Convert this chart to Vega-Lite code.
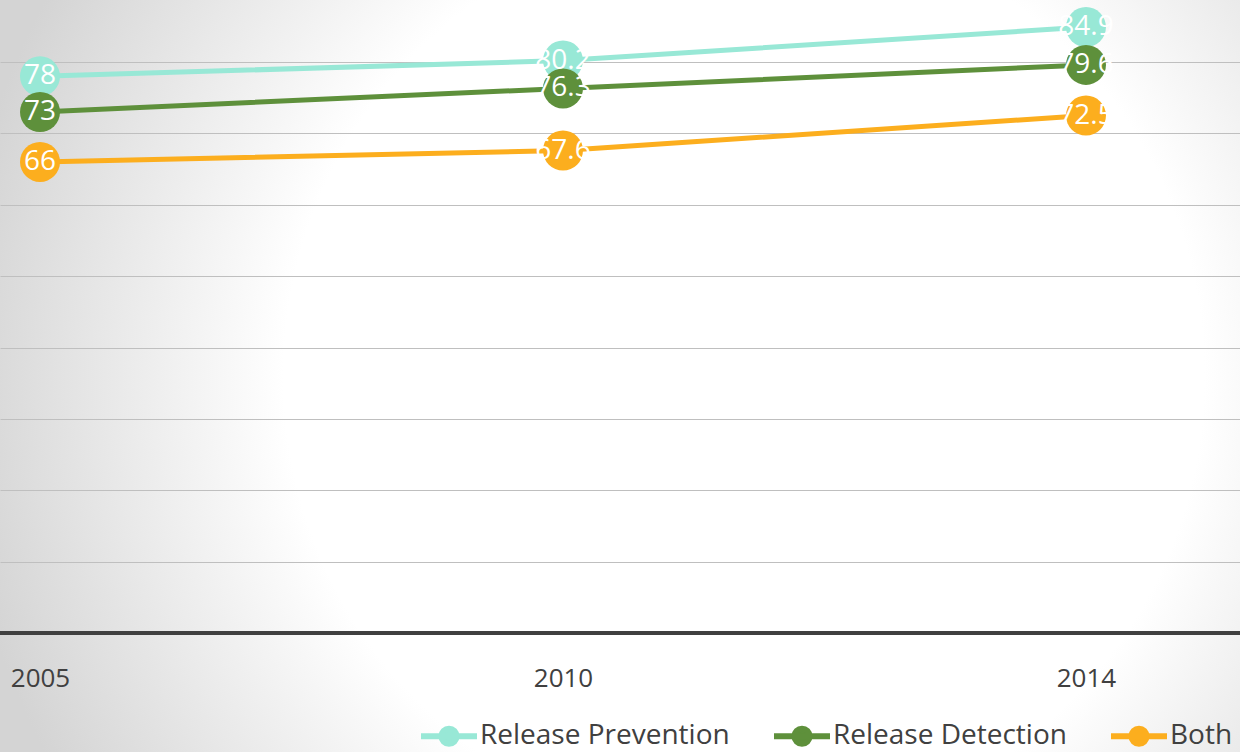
{
  "$schema": "https://vega.github.io/schema/vega-lite/v6.json",
  "width": 1240,
  "height": 752,
  "autosize": {"type": "none"},
  "padding": 0,
  "background": "#ffffff",
  "config": {
    "font": "Open Sans",
    "view": {
      "stroke": null,
      "fill": {
        "gradient": "radial",
        "x1": 0.6, "y1": 0.5, "r1": 0,
        "x2": 0.6, "y2": 0.5, "r2": 0.64,
        "stops": [
          {"offset": 0, "color": "#ffffff"},
          {"offset": 0.58, "color": "#ffffff"},
          {"offset": 1, "color": "#d4d4d4"}
        ]
      }
    }
  },
  "data": {
    "values": [
      {"year": "2005", "series": "Release Prevention", "value": 78},
      {"year": "2010", "series": "Release Prevention", "value": 80.2},
      {"year": "2014", "series": "Release Prevention", "value": 84.9},
      {"year": "2005", "series": "Release Detection", "value": 73},
      {"year": "2010", "series": "Release Detection", "value": 76.3},
      {"year": "2014", "series": "Release Detection", "value": 79.6},
      {"year": "2005", "series": "Both", "value": 66},
      {"year": "2010", "series": "Both", "value": 67.6},
      {"year": "2014", "series": "Both", "value": 72.5}
    ]
  },
  "encoding": {
    "x": {
      "field": "year",
      "type": "ordinal",
      "scale": {"type": "point", "padding": 0.1855, "align": 0.2062},
      "axis": {
        "title": null,
        "offset": -74,
        "domain": false,
        "ticks": false,
        "tickSize": 0,
        "labelPadding": 0,
        "labelBaseline": "middle",
        "labelAngle": 0,
        "labelFontSize": 26,
        "labelColor": "#404040",
        "grid": false
      }
    },
    "y": {
      "field": "value",
      "type": "quantitative",
      "scale": {"domain": [-16.67, 88.69], "nice": false, "zero": false},
      "axis": {
        "title": null,
        "values": [10, 20, 30, 40, 50, 60, 70, 80],
        "labels": false,
        "ticks": false,
        "domain": false,
        "grid": true,
        "gridColor": "#bfbfbf",
        "gridWidth": 1.2
      }
    },
    "color": {
      "field": "series",
      "type": "nominal",
      "scale": {
        "domain": ["Release Prevention", "Release Detection", "Both"],
        "range": ["#98e8d6", "#5e903b", "#fcae1e"]
      },
      "legend": {
        "title": null,
        "orient": "none",
        "direction": "horizontal",
        "legendX": 418,
        "legendY": 705,
        "symbolType": "M-1,0L1,0M0.27,0A0.27,0.27,0,1,1,-0.27,0A0.27,0.27,0,1,1,0.27,0",
        "symbolSize": 3136,
        "symbolStrokeWidth": 6,
        "labelFontSize": 28,
        "labelColor": "#404040",
        "labelLimit": 400,
        "labelOffset": 0,
        "columnPadding": 32,
        "encode": {
          "symbols": {
            "update": {
              "fill": {"scale": "color", "field": "value"},
              "stroke": {"scale": "color", "field": "value"},
              "opacity": {"value": 1}
            }
          }
        }
      }
    }
  },
  "layer": [
    {
      "mark": {"type": "rule", "color": "#404040", "strokeWidth": 3.5},
      "encoding": {"y": {"datum": 0}, "x": null, "color": null}
    },
    {
      "mark": {"type": "line", "strokeWidth": 5}
    },
    {
      "mark": {"type": "point", "filled": true, "opacity": 1, "size": 1600}
    },
    {
      "mark": {"type": "text", "color": "#ffffff", "fontSize": 28, "baseline": "middle", "align": "center"},
      "encoding": {
        "text": {"field": "value", "type": "nominal"},
        "color": null
      }
    }
  ]
}
